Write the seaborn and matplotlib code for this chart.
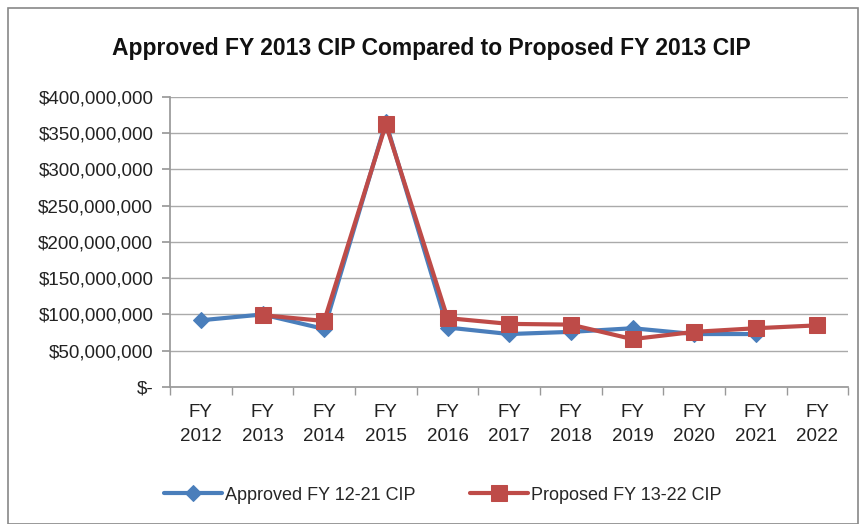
import matplotlib; matplotlib.use('Agg')
import matplotlib.pyplot as plt
from matplotlib.patches import Rectangle
from matplotlib.ticker import FuncFormatter, FixedLocator
import seaborn as sns, pandas as pd

# ── Data ─────────────────────────────────────────────
years    = ['2012','2013','2014','2015','2016','2017','2018','2019','2020','2021','2022']
approved = [92e6, 100e6, 80e6, 365e6, 82e6, 73e6, 76e6, 81e6, 73e6, 73e6, None]
proposed = [None, 99e6, 91e6, 362e6, 95e6, 87e6, 86e6, 66e6, 76e6, 81e6, 85e6]
tick_lbls = ['FY\n' + y for y in years]

df = pd.DataFrame({'x': range(len(years)), 'approved': approved, 'proposed': proposed})

sns.set_theme(style='white')
plt.rcParams['font.family'] = ['Liberation Sans', 'DejaVu Sans']

fig = plt.figure(figsize=(8.63, 5.24), dpi=100)
ax = fig.add_axes([0.197, 0.2615, 0.786, 0.5535])

blue, red = '#4a7ebb', '#be4b48'
a = df.dropna(subset=['approved'])
p = df.dropna(subset=['proposed'])
sns.lineplot(data=a, x='x', y='approved', ax=ax, color=blue, lw=3, marker='D', ms=8,
             mec=blue, label='Approved FY 12-21 CIP')
sns.lineplot(data=p, x='x', y='proposed', ax=ax, color=red, lw=3, marker='s', ms=12,
             mec=red, label='Proposed FY 13-22 CIP')

ax.set_xlim(-0.5, len(years) - 0.5)
ax.set_ylim(0, 400e6)
ax.set_yticks(range(0, 400000001, 50000000))
ax.yaxis.set_major_formatter(FuncFormatter(lambda v, _: '$-' if v == 0 else f'${v:,.0f}'))
ax.set_xticks(range(len(years)))
ax.set_xticklabels(tick_lbls, fontsize=13.5, color='#222222', linespacing=1.55)
ax.xaxis.set_minor_locator(FixedLocator([i - 0.5 for i in range(len(years) + 1)]))
ax.tick_params(axis='x', which='major', length=0, pad=12)
ax.tick_params(axis='x', which='minor', length=6, color='#999999', width=1, bottom=True)
ax.tick_params(axis='y', length=6, color='#999999', labelsize=13.5, labelcolor='#222222', pad=6, left=True)
ax.grid(axis='y', color='#aaaaaa', lw=1)
ax.set_axisbelow(True)
for s in ['top', 'right']:
    ax.spines[s].set_visible(False)
for s in ['left', 'bottom']:
    ax.spines[s].set_color('#999999')
ax.set_xlabel(''); ax.set_ylabel('')

fig.text(0.5, 0.908, 'Approved FY 2013 CIP Compared to Proposed FY 2013 CIP',
         ha='center', va='center', fontsize=16.5, fontweight='bold', color='#111111')

ax.legend(loc='center', bbox_to_anchor=(0.513, 0.055), bbox_transform=fig.transFigure,
          ncol=2, frameon=False, fontsize=13, handlelength=3.2, columnspacing=3, handletextpad=0.2)

fig.add_artist(Rectangle((0.009, 0.0), 0.985, 0.985, transform=fig.transFigure,
                         fill=False, ec='#888888', lw=1.2))

plt.savefig('out.png', dpi=100)
